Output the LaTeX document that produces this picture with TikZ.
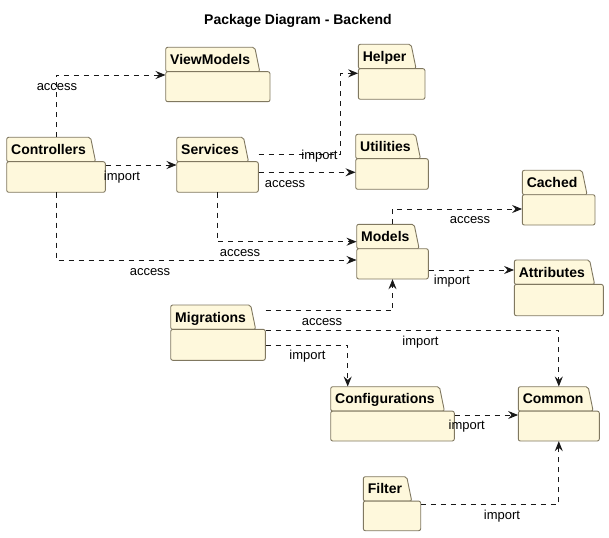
\documentclass[tikz,border=0pt]{standalone}
\usepackage{fontspec}
\setmainfont{Liberation Sans}
\usetikzlibrary{arrows.meta,calc,fit}
\definecolor{pkgfill}{RGB}{254,248,220}
\definecolor{pkgline}{RGB}{128,120,96}
\definecolor{edgecol}{RGB}{24,24,24}
\tikzset{
  pkgshape/.style={draw=pkgline, fill=pkgfill, line width=0.9pt, rounded corners=2pt, line join=round},
  pkgtext/.style={font=\fontsize{14}{16}\selectfont\bfseries, inner sep=0pt, anchor=base west},
  pkgbox/.style={inner sep=0pt, draw=none},
  dep/.style={draw=edgecol, line width=0.9pt, dash pattern=on 5pt off 5pt, -{Stealth[length=10pt,width=8pt,inset=3.5pt]}},
  lbl/.style={font=\fontsize{13}{15}\selectfont, inner sep=0pt, anchor=base, text=black},
  ttl/.style={font=\fontsize{14}{16}\selectfont\bfseries, inner sep=0pt, anchor=base},
}
\newcommand\pkg[6]{%
  \node[pkgbox, fit={(#3,#4) (#5,#6)}] (#1) {};
  \node[pkgtext] (#1m) at (#3+4.3,#4+17) {\phantom{#2}};
  \coordinate (#1a) at ($(#1m.east |- #3,#4)+(4.5,0)$);
  \coordinate (#1b) at ($(#1m.east |- #3,#4+24.4)+(9.5,0)$);
  \filldraw[pkgshape] (#3,#4+24.4) -- (#3,#4) -- (#1a) -- (#1b) -- cycle;
  \filldraw[pkgshape] (#3,#4+24.4) rectangle (#5,#6);
  \node[pkgtext] (#1t) at (#3+4.3,#4+17) {#2};
}
\begin{document}
\begin{tikzpicture}[x=1pt,y=-1pt]
\useasboundingbox (0,0) rectangle (609,537);
\node[ttl] (title) at (298,25) {Package Diagram - Backend};

\pkg{vm}{ViewModels}{165.7}{47.3}{270}{101.7}
\pkg{ctrl}{Controllers}{6.7}{137.3}{105.3}{192.3}
\pkg{svc}{Services}{176.7}{137.3}{258.3}{192.3}
\pkg{hlp}{Helper}{358.3}{44.3}{425}{99.3}
\pkg{utl}{Utilities}{355.7}{134.3}{428.3}{189.3}
\pkg{cch}{Cached}{522.3}{170.3}{595}{225}
\pkg{mod}{Models}{356.7}{224.3}{428.3}{279}
\pkg{att}{Attributes}{514.3}{260}{603.3}{315.7}
\pkg{mig}{Migrations}{170.7}{305}{265.3}{360.3}
\pkg{cfg}{Configurations}{330.7}{386.7}{454.3}{441}
\pkg{cmn}{Common}{518.3}{386.7}{599.3}{441}
\pkg{flt}{Filter}{363.3}{476.7}{420.7}{530.7}

\coordinate (hbend) at (340,154.3);

\draw[dep] (ctrl.north) |- (vm.west |- 0,75);
\draw[dep] (ctrl.east |- 0,165) -- (svc.west |- 0,165);
\draw[dep] (ctrl.south) |- (mod.west |- 0,260);
\draw[dep] (svc.south) |- (mod.west |- 0,241.7);
\draw[dep] (svc.east |- 0,154.3) -- (hbend) |- (hlp.west |- 0,73.3);
\draw[dep] (svc.east |- 0,172.3) -- (utl.west |- 0,172.3);
\draw[dep] (mod.north) |- (cch.west |- 0,209);
\draw[dep] (mod.east |- 0,270) -- (att.west |- 0,270);
\draw[dep] (mig.east |- 0,310.7) -| (mod.south);
\draw[dep] (mig.east |- 0,330.7) -| (cmn.north);
\draw[dep] (mig.east |- 0,345.3) -| (cfg.north -| 347.7,0);
\draw[dep] (cfg.east |- 0,415) -- (cmn.west |- 0,415);
\draw[dep] (flt.east |- 0,504.3) -| (cmn.south);

\node[lbl] (l1) at (57,90.5) {access};
\node[lbl] (l2) at (122,180.3) {import};
\node[lbl] (l3) at (150,275.5) {access};
\node[lbl] (l4) at (240,256.8) {access};
\node[lbl] (l5) at (319.5,159.3) {import};
\node[lbl] (l6) at (285,187.5) {access};
\node[lbl] (l7) at (470,223.8) {access};
\node[lbl] (l8) at (452,284.3) {import};
\node[lbl] (l9) at (322,325.5) {access};
\node[lbl] (l10) at (420.5,345.3) {import};
\node[lbl] (l11) at (307.5,359.8) {import};
\node[lbl] (l12) at (466.7,429.3) {import};
\node[lbl] (l13) at (502,519.3) {import};
\end{tikzpicture}
\end{document}
